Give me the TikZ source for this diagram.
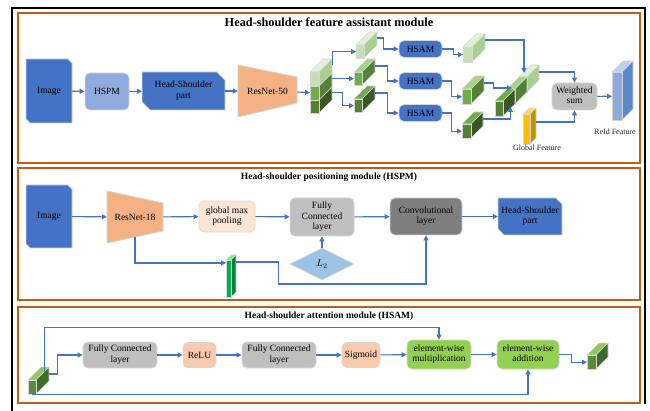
\documentclass[tikz,border=0pt]{standalone}
\usepackage{fontspec}
\setmainfont{Liberation Serif}
\usetikzlibrary{arrows.meta,shapes.geometric,calc}

\definecolor{blueA}{HTML}{4472C4}
\definecolor{blueL}{HTML}{8FAADC}
\definecolor{orangeF}{HTML}{F4B183}
\definecolor{peach}{HTML}{FBE5D6}
\definecolor{peachE}{HTML}{F2D3BE}
\definecolor{salmon}{HTML}{F8CBAD}
\definecolor{grayL}{HTML}{BFBFBF}
\definecolor{grayD}{HTML}{7F7F7F}
\definecolor{greenE}{HTML}{92D050}
\definecolor{frameO}{HTML}{C55A11}
\definecolor{diaB}{HTML}{9DC3E6}
\definecolor{edgeG}{HTML}{D6D6D6}
\definecolor{arrowB}{HTML}{4472C4}
% greens of the feature prisms
\definecolor{lgF}{HTML}{C5E0B4}\definecolor{lgS}{HTML}{A9D18E}\definecolor{lgT}{HTML}{E2F0D9}
\definecolor{mgF}{HTML}{70AD47}\definecolor{mgS}{HTML}{548235}\definecolor{mgT}{HTML}{A9D18E}
\definecolor{dgF}{HTML}{548235}\definecolor{dgS}{HTML}{385723}\definecolor{dgT}{HTML}{70AD47}
\definecolor{yF}{HTML}{FFC000}\definecolor{yS}{HTML}{BF9000}\definecolor{yT}{HTML}{FFD966}
\definecolor{bF}{HTML}{8FAADC}\definecolor{bS}{HTML}{5B87C9}\definecolor{bT}{HTML}{BDD0EE}
\definecolor{sF}{HTML}{00B050}\definecolor{sS}{HTML}{00803A}\definecolor{sT}{HTML}{66FF66}
\definecolor{iF}{HTML}{5A8A3A}\definecolor{iS}{HTML}{3E6B28}\definecolor{iT}{HTML}{92C65E}

% centred multi-line label
\newcommand\ml[1]{\begin{tabular}{@{}c@{}}#1\end{tabular}}

\tikzset{
  lbl/.style={font=\fontsize{9.5}{10.5}\selectfont, text=black},
  rbox/.style={lbl, rounded corners=5pt, draw=edgeG, line width=0.8pt, inner sep=1pt},
  arr/.style={draw=arrowB, line width=1.1pt, -{Triangle[length=5pt,width=5pt]}},
  panel/.style={draw=frameO, line width=1.3pt},
  ttl/.style={font=\bfseries\fontsize{9.5}{11}\selectfont},
  small/.style={font=\fontsize{8}{9}\selectfont, text=black!85},
}

% prism: name, x, y (front top-left), width, height, depth, front, side, top
\newcommand\prism[9]{%
  \filldraw[fill=#9, draw=edgeG, line width=0.6pt, line join=round] (#2,#3) -- ++(#6,-#6) -- ++(#4,0) -- ++(-#6,#6) -- cycle;
  \filldraw[fill=#8, draw=edgeG, line width=0.6pt, line join=round] ({#2+#4},#3) -- ++(#6,-#6) -- ++(0,#5) -- ++(-#6,#6) -- cycle;
  \filldraw[fill=#7, draw=edgeG, line width=0.6pt] (#2,#3) rectangle ++(#4,#5);
  \node[inner sep=0pt, minimum width=#4pt, minimum height=#5pt, anchor=north west] (#1) at (#2,#3) {};
}

% chamfered box: name, cx, cy, width, height, cut, text
\newcommand\chamfbox[7]{%
  \filldraw[fill=blueA, draw=edgeG, line width=0.8pt]
    ({#2-#4/2},{#3-#5/2}) -- ({#2+#4/2-#6},{#3-#5/2}) -- ({#2+#4/2},{#3-#5/2+#6}) --
    ({#2+#4/2},{#3+#5/2}) -- ({#2-#4/2+#6},{#3+#5/2}) -- ({#2-#4/2},{#3+#5/2-#6}) -- cycle;
  \node[lbl, inner sep=0pt, minimum width=#4pt, minimum height=#5pt] (#1) at (#2,#3) {#7};
}

\begin{document}
\begin{tikzpicture}[x=1pt,y=-1pt]
\useasboundingbox (0,0) rectangle (650,411);

% outer frame and the three panels
\draw[line width=1.3pt] (12,411) -- (12,8) -- (645,8) -- (645,404);
\draw[panel] (18,13) rectangle (640,163);
\draw[panel] (18,168) rectangle (640,300);
\draw[panel] (18,307) rectangle (640,403);

\node[font=\bfseries\fontsize{12.3}{14}\selectfont] (t1) at (329,22) {Head-shoulder feature assistant module};
\node[ttl] (t2) at (329,177) {Head-shoulder positioning module (HSPM)};
\node[ttl] (t3) at (329,316) {Head-shoulder attention module (HSAM)};

% ---------------- feature assistant module ----------------
\chamfbox{img1}{49}{91}{46}{64}{4}{Image}
\node[rbox, fill=blueL, minimum width=44pt, minimum height=37pt] (hspm) at (107,91.5) {HSPM};
\chamfbox{hsp1}{183.5}{91}{83}{38}{8}{\ml{Head-Shoulder\\part}}
\filldraw[fill=orangeF, draw=edgeG, line width=0.8pt] (238,65) -- (297,77) -- (297,103) -- (238,117) -- cycle;
\node[lbl, inner sep=0pt, minimum width=59pt, minimum height=26pt] (r50) at (267.5,91) {ResNet-50};

% stacked feature map
\prism{sb}{310}{100}{9}{13}{13}{dgF}{dgS}{dgT}
\prism{sm}{310}{86}{9}{14}{13}{mgF}{mgS}{mgT}
\prism{st}{310}{72}{9}{14}{13}{lgF}{lgS}{lgT}
\node[inner sep=0pt, minimum width=9pt, minimum height=41pt, anchor=north west] (stack) at (310,72) {};

% split parts
\prism{c1}{356}{45}{8}{13}{13}{lgF}{lgS}{lgT}
\prism{c2}{354}{72}{8}{13}{13}{mgF}{mgS}{mgT}
\prism{c3}{354}{99}{8}{13}{13}{dgF}{dgS}{dgT}

\node[rbox, fill=blueA, minimum width=43pt, minimum height=17pt] (h1) at (420.5,49) {HSAM};
\node[rbox, fill=blueA, minimum width=43pt, minimum height=17pt] (h2) at (420.5,81) {HSAM};
\node[rbox, fill=blueA, minimum width=43pt, minimum height=17pt] (h3) at (420.5,113) {HSAM};

\prism{o1}{463}{47}{9}{15}{13}{lgF}{lgS}{lgT}
\prism{o2}{462}{89}{9}{15}{13}{mgF}{mgS}{mgT}
\prism{o3}{462}{124}{9}{14}{12}{dgF}{dgS}{dgT}

% concatenated parts
\prism{catL}{519}{77}{8}{15}{12}{lgF}{lgS}{lgT}
\prism{catM}{507}{89}{8}{15}{12}{mgF}{mgS}{mgT}
\prism{catD}{495}{101}{8}{15}{12}{dgF}{dgS}{dgT}
\coordinate (inA) at ($(catL.north west)+(5,-4)$);
\coordinate (inB) at ($(catM.north west)+(5,-1)$);
\coordinate (inC) at ($(catD.north east)+(7,6)$);

\prism{gf}{523}{114}{7}{30}{6}{yF}{yS}{yT}
\node[small] (gfl) at (537,148) {Global Feature};

\node[rbox, fill=grayL, minimum width=45pt, minimum height=27pt] (ws) at (574.5,96.5) {\ml{Weighted\\sum}};

\prism{reid}{612}{72}{10}{48}{11}{bF}{bS}{bT}
\node[small] (reidl) at (615,132) {ReId Feature};

\draw[arr] (img1) -- (hspm);
\draw[arr] (hspm) -- (hsp1);
\draw[arr] (hsp1) -- (r50);
\draw[arr] (r50) -- (stack);
\draw[arr] ($(stack.north east)+(13,-7)$) |- (c1.west);
\draw[arr] ($(c2.west -| stack.east)+(13,0)$) -- (c2.west);
\draw[arr] ($(stack.east)+(13,0)$) -- ++(10,0) |- (c3.west);
\draw[arr] ($(c1.north east)+(13,-7)$) -- ++(6,0) |- (h1.west);
\draw[arr] ($(c2.north east)+(13,-6)$) -- ++(12,0) |- (h2.west);
\draw[arr] ($(c3.north east)+(13,-6)$) -- ++(12,0) |- (h3.west);
\draw[arr] (h1.east) -- ++(11,0) |- (o1.west);
\draw[arr] (h2.east) -- ++(9,0) |- (o2.west);
\draw[arr] (h3.east) -- ++(9,0) |- (o3.west);
\draw[arr] ($(o1.north east)+(13,-7)$) -| (inA);
\draw[arr] ($(o2.north east)+(13,-6)$) -- ++(9,0) |- (inB);
\draw[arr] ($(o3.north east)+(12,-5)$) -| (inC);
\draw[arr] ($(catL.north east)+(12,-5)$) -| (ws.north);
\draw[arr] ($(gf.north east)+(6,8)$) -| (ws.south);
\draw[arr] (ws) -- (reid);

% ---------------- positioning module ----------------
\chamfbox{img2}{49}{216.5}{46}{63}{4}{Image}
\filldraw[fill=orangeF, draw=edgeG, line width=0.8pt] (107,191) -- (163,203) -- (163,231) -- (107,243) -- cycle;
\node[lbl, inner sep=0pt, minimum width=56pt, minimum height=28pt] (r18) at (135,217) {ResNet-18};
\coordinate (r18b) at (135,237);
\node[rbox, fill=peach, draw=peachE, minimum width=56pt, minimum height=31pt] (gmp) at (227,216.5) {\ml{global max\\pooling}};
\node[rbox, fill=grayL, minimum width=64pt, minimum height=38pt] (fc) at (322,217) {\ml{Fully\\Connected\\layer}};
\node[rbox, fill=grayD, minimum width=72pt, minimum height=37pt] (conv) at (426,216.5) {\ml{Convolutional\\layer}};
\chamfbox{hsp2}{530}{216.5}{64}{37}{6}{\ml{Head-Shoulder\\part}}
\node[diamond, fill=diaB, draw=edgeG, line width=0.6pt, inner sep=0pt, aspect=2, minimum width=64pt, minimum height=32pt, text=black, font=\fontsize{10}{11}\selectfont] (l2) at (322,264) {$L_2$};

\prism{slab}{226}{260}{5}{37}{5}{sF}{sS}{sT}

\draw[arr] (img2) -- (r18);
\draw[arr] (r18) -- (gmp);
\draw[arr] (gmp) -- (fc);
\draw[arr] (fc) -- (conv);
\draw[arr] (conv) -- (hsp2);
\draw[arr] (l2.north) -- (fc.south);
\draw[arr] (r18b) |- ($(slab.north west)+(0,3)$);
\draw[arr] ($(slab.north east)+(5,2)$) -- ++(42,0) -- ++(0,22) -| (conv.south);

% ---------------- attention module ----------------
\prism{cin}{28}{380}{8}{14}{13}{iF}{iS}{iT}
\prism{cout}{587}{355}{9}{14}{12}{iF}{iS}{iT}

\node[rbox, fill=grayL, minimum width=74pt, minimum height=26pt] (fc1) at (120,355) {\ml{Fully Connected\\layer}};
\node[rbox, fill=salmon, minimum width=33pt, minimum height=25pt] (relu) at (199.5,355) {ReLU};
\node[rbox, fill=grayL, minimum width=74pt, minimum height=26pt] (fc2) at (279,355) {\ml{Fully Connected\\layer}};
\node[rbox, fill=salmon, minimum width=38pt, minimum height=25pt] (sig) at (361,355) {Sigmoid};
\node[rbox, fill=greenE, minimum width=64pt, minimum height=29pt] (ewm) at (439,354.5) {\ml{element-wise\\multiplication}};
\node[rbox, fill=greenE, minimum width=62pt, minimum height=29pt] (ewa) at (528,354.5) {\ml{element-wise\\addition}};

\draw[arr] ($(cin.north east)+(8,-8)$) |- ($(ewm.north)+(0,-12)$) -- (ewm.north);
\draw[arr] ($(cin.north east)+(13,-6)$) -- ++(8,0) |- (fc1.west);
\draw[arr] (cin.south) -| (ewa.south);
\draw[arr] (fc1) -- (relu);
\draw[arr] (relu) -- (fc2);
\draw[arr] (fc2) -- (sig);
\draw[arr] (sig) -- (ewm);
\draw[arr] (ewm) -- (ewa);
\draw[arr] (ewa.east) -- ++(12,0) |- (cout.west);

\end{tikzpicture}
\end{document}
